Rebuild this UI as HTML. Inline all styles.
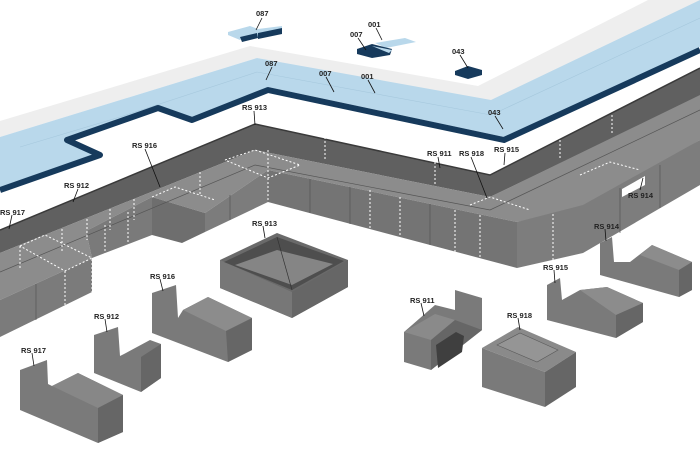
<!DOCTYPE html>
<html><head><meta charset="utf-8"><style>
html,body{margin:0;padding:0;background:#fff;}
svg{display:block;}
text{font-family:"Liberation Sans",sans-serif;font-size:7.5px;font-weight:bold;fill:#222;}
</style></head><body>
<svg width="700" height="471" viewBox="0 0 700 471" xmlns="http://www.w3.org/2000/svg">
<rect width="700" height="471" fill="#fff"/>
<!-- white grating band -->
<polygon points="0,121 250,46 478,86 648,0 700,0 700,5 491,102 257,58 0,137" fill="#eeeeee"/>
<!-- blue band -->
<polygon points="0,137 257,58 491,100 700,0 700,47 504,137 268,87 192,117 158,105 67,137 100,152 0,187" fill="#b9d8eb"/>
<polyline points="20,147 120,117 257,72 491,115 700,18" fill="none" stroke="#a6c8dd" stroke-width="0.6"/>
<polyline points="0,190 100,155 67,140 158,108 192,120 268,90 504,140 700,50" fill="none" stroke="#163a5c" stroke-width="6" stroke-linejoin="round"/>
<!-- back wall -->
<polygon points="0,230 255,124 490,175 700,68 700,96 490,197 255,150 0,253" fill="#606060"/>
<polyline points="0,230 255,124 490,175 700,68" fill="none" stroke="#3a3a3a" stroke-width="1.5"/>
<!-- block tops -->
<polygon points="0,253 255,150 490,197 700,95 700,140 583,210 517,222 268,170 205,213 152,197 86,231 92,258 0,300" fill="#8c8c8c"/>
<!-- front faces -->
<polygon points="0,300 92,258 92,292 0,337" fill="#7b7b7b"/>
<polygon points="86,231 152,197 152,235 92,258" fill="#7a7a7a"/>
<polygon points="152,197 205,213 205,232 182,243 152,235" fill="#6e6e6e"/>
<polygon points="205,213 268,170 268,202 205,232" fill="#7c7c7c"/>
<polygon points="268,170 517,222 517,268 268,202" fill="#747474"/>
<polygon points="517,222 583,205 700,140 700,185 583,253 517,268" fill="#7d7d7d"/>
<polygon points="622,189 645,176 645,185 622,197" fill="#fff"/>
<!-- seams -->
<g stroke="#555" stroke-width="0.7" fill="none">
<polyline points="0,272 255,165 490,210 700,110"/>
<line x1="310" y1="179" x2="310" y2="213"/><line x1="350" y1="187" x2="350" y2="224"/><line x1="430" y1="204" x2="430" y2="245"/>
<line x1="230" y1="195" x2="230" y2="220"/><line x1="36" y1="284" x2="36" y2="320"/>
<line x1="620" y1="188" x2="620" y2="233"/><line x1="660" y1="165" x2="660" y2="208"/>
</g>
<g stroke="#fff" stroke-width="1" stroke-dasharray="2,2" fill="none">
<line x1="20" y1="246" x2="20" y2="270"/><line x1="62" y1="229" x2="62" y2="252"/><line x1="87" y1="219" x2="87" y2="240"/><line x1="110" y1="209" x2="110" y2="230"/><line x1="134" y1="199" x2="134" y2="220"/><line x1="200" y1="172" x2="200" y2="194"/>
<line x1="325" y1="137" x2="325" y2="160"/><line x1="435" y1="162" x2="435" y2="185"/><line x1="560" y1="140" x2="560" y2="160"/><line x1="612" y1="115" x2="612" y2="135"/>
<line x1="268" y1="150" x2="268" y2="202"/><line x1="370" y1="190" x2="370" y2="233"/><line x1="400" y1="197" x2="400" y2="237"/><line x1="455" y1="210" x2="455" y2="252"/><line x1="480" y1="215" x2="480" y2="257"/><line x1="553" y1="214" x2="553" y2="260"/>
<line x1="65" y1="271" x2="65" y2="305"/><line x1="92" y1="259" x2="92" y2="292"/><line x1="105" y1="225" x2="105" y2="255"/><line x1="128" y1="212" x2="128" y2="243"/>
<polyline points="20,246 45,235 92,258 65,271 20,246"/>
<polyline points="225,160 255,150 300,165 268,178 225,160"/>
<polyline points="152,197 175,187 215,200"/>
<polyline points="470,205 490,197 530,210"/>
<polyline points="580,175 610,162 640,170"/>
</g>
<!-- loose top pieces -->
<polygon points="228,32 250,26 258,29 282,26 282,33 258,38 250,36 240,40 228,35" fill="#b9d8eb"/>
<polygon points="240,37 257,33 258,38 242,42" fill="#163a5c"/><polygon points="258,33 282,28 282,34 258,39" fill="#163a5c"/>
<polygon points="375,43 405,38 416,42 386,48" fill="#b9d8eb"/>
<polygon points="357,49 372,44 392,49 390,55 372,58 357,54" fill="#163a5c"/>
<polygon points="372,46 392,50 389,53" fill="#b9d8eb"/>
<polygon points="455,71 468,66 482,70 482,75 468,79 455,75" fill="#163a5c"/>
<!-- RS 913 -->
<polygon points="220,260 277,233 348,260 348,287 292,318 220,288" fill="#6a6a6a"/>
<polygon points="220,260 292,292 292,318 220,288" fill="#777"/>
<polygon points="292,292 348,260 348,287 292,318" fill="#666"/>
<polygon points="224,262 277,237 344,261 292,290" fill="#4e4e4e"/>
<polygon points="235,265 277,250 333,264 292,285" fill="#858585"/>
<line x1="277" y1="237" x2="292" y2="290" stroke="#333" stroke-width="0.7"/>
<!-- RS 916 -->
<polygon points="152,293 176,285 178,318 183,310 208,297 252,318 252,350 228,362 152,333" fill="#7a7a7a"/>
<polygon points="183,310 208,297 252,318 226,331" fill="#8c8c8c"/>
<polygon points="226,331 252,318 252,350 228,362" fill="#666"/>
<!-- RS 912 -->
<polygon points="94,335 118,327 120,356 124,354 150,340 161,344 161,378 141,392 94,373" fill="#7a7a7a"/>
<polygon points="141,357 161,344 161,378 141,392" fill="#666"/>
<!-- RS 917 -->
<polygon points="20,370 47,360 48,384 52,386 78,373 123,395 123,432 98,443 20,410" fill="#7a7a7a"/>
<polygon points="52,386 78,373 123,395 98,408" fill="#878787"/>
<polygon points="98,408 123,395 123,432 98,443" fill="#666"/>
<!-- RS 911 -->
<polygon points="404,332 435,305 455,310 455,290 482,298 482,330 431,370 404,362" fill="#7a7a7a"/>
<polygon points="404,332 435,314 455,320 431,340" fill="#8a8a8a"/>
<polygon points="431,340 455,320 482,330 431,370" fill="#666"/>
<polygon points="436,345 456,332 464,336 462,352 438,368" fill="#3f3f3f"/>
<!-- RS 918 -->
<polygon points="482,348 518,327 576,352 545,372" fill="#8a8a8a"/>
<polygon points="497,345 520,333 558,350 537,362" fill="#959595" stroke="#5a5a5a" stroke-width="0.6"/>
<polygon points="482,348 545,372 545,407 482,387" fill="#7a7a7a"/>
<polygon points="545,372 576,352 576,387 545,407" fill="#666"/>
<!-- RS 915 -->
<polygon points="547,285 560,278 562,300 580,290 607,287 643,303 643,322 616,338 547,320" fill="#7a7a7a"/>
<polygon points="580,290 607,287 643,303 616,315" fill="#8c8c8c"/>
<polygon points="616,315 643,303 643,322 616,338" fill="#666"/>
<!-- RS 914 -->
<polygon points="600,243 612,237 614,262 630,262 652,245 692,262 692,290 679,297 600,275" fill="#7a7a7a"/>
<polygon points="652,245 692,262 679,270 640,255" fill="#8c8c8c"/>
<polygon points="679,270 692,262 692,290 679,297" fill="#666"/>
<!-- leader lines -->
<g stroke="#111" stroke-width="0.8">
<line x1="262" y1="18" x2="256" y2="30"/><line x1="376" y1="28" x2="382" y2="40"/><line x1="358" y1="38" x2="366" y2="50"/><line x1="460" y1="55" x2="468" y2="68"/>
<line x1="272" y1="67" x2="266" y2="80"/><line x1="326" y1="77" x2="334" y2="92"/><line x1="368" y1="80" x2="375" y2="93"/><line x1="495" y1="116" x2="503" y2="129"/>
<line x1="254" y1="111" x2="255" y2="125"/><line x1="145" y1="149" x2="160" y2="187"/><line x1="78" y1="189" x2="73" y2="202"/><line x1="12" y1="215" x2="9" y2="229"/>
<line x1="438" y1="157" x2="440" y2="168"/><line x1="471" y1="157" x2="487" y2="198"/><line x1="505" y1="153" x2="504" y2="165"/><line x1="640" y1="190" x2="643" y2="178"/>
<line x1="263" y1="226" x2="265" y2="238"/><line x1="160" y1="279" x2="163" y2="291"/><line x1="105" y1="319" x2="107" y2="332"/><line x1="32" y1="353" x2="34" y2="366"/>
<line x1="421" y1="303" x2="424" y2="316"/><line x1="518" y1="318" x2="520" y2="330"/><line x1="554" y1="270" x2="555" y2="283"/><line x1="605" y1="229" x2="606" y2="241"/>
</g>
<!-- labels -->
<text x="256" y="16">087</text><text x="368" y="27">001</text><text x="350" y="37">007</text><text x="452" y="54">043</text>
<text x="265" y="66">087</text><text x="319" y="76">007</text><text x="361" y="79">001</text><text x="488" y="115">043</text>
<text x="242" y="110">RS 913</text><text x="132" y="148">RS 916</text><text x="64" y="188">RS 912</text><text x="0" y="215">RS 917</text>
<text x="427" y="156">RS 911</text><text x="459" y="156">RS 918</text><text x="494" y="152">RS 915</text><text x="628" y="198">RS 914</text>
<text x="252" y="226">RS 913</text><text x="150" y="279">RS 916</text><text x="94" y="319">RS 912</text><text x="21" y="353">RS 917</text>
<text x="410" y="303">RS 911</text><text x="507" y="318">RS 918</text><text x="543" y="270">RS 915</text><text x="594" y="229">RS 914</text>
</svg>
</body></html>
